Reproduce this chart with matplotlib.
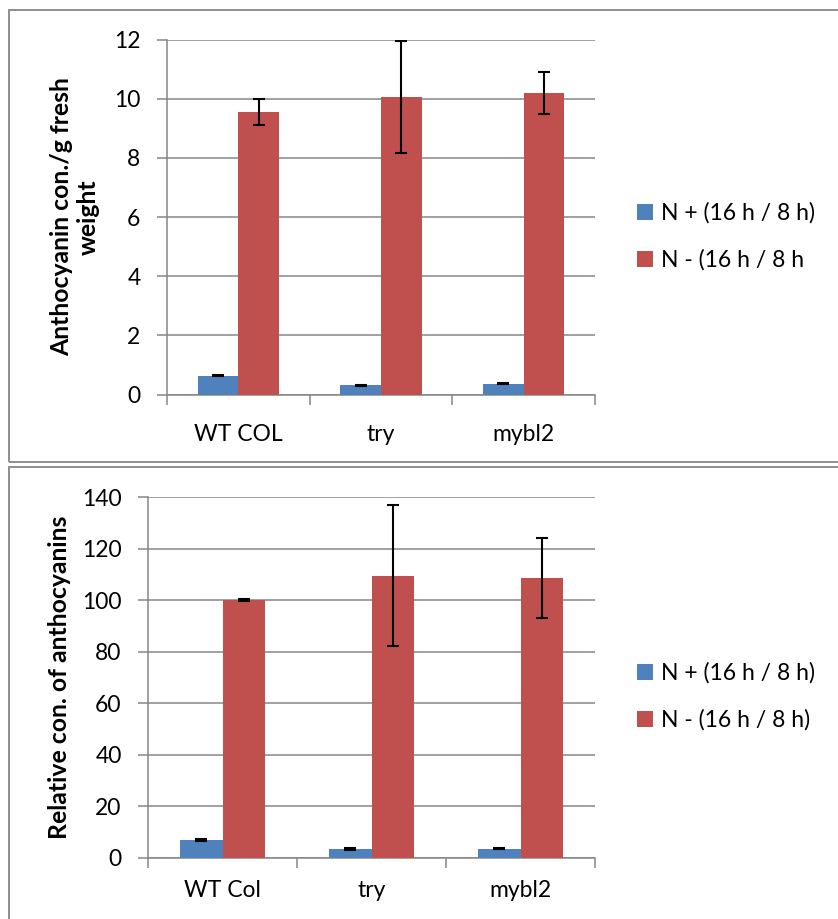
import matplotlib
matplotlib.use("Agg")
import matplotlib.pyplot as plt
from matplotlib.patches import Rectangle
import numpy as np

plt.rcParams['font.family'] = ['Lato', 'DejaVu Sans']

# ---- data -------------------------------------------------------------
groups_top = ["WT COL", "try", "mybl2"]
groups_bottom = ["WT Col", "try", "mybl2"]
series_top = ["N + (16 h / 8 h)", "N - (16 h / 8 h"]
series_bottom = ["N + (16 h / 8 h)", "N - (16 h / 8 h)"]

# anthocyanin content per g fresh weight
top_nplus = [0.63, 0.31, 0.37]
top_nplus_err = [0.02, 0.02, 0.02]
top_nminus = [9.55, 10.05, 10.19]
top_nminus_err = [0.45, 1.9, 0.7]

# relative anthocyanin content (WT N- = 100)
bot_nplus = [7.0, 3.4, 3.6]
bot_nplus_err = [0.3, 0.3, 0.3]
bot_nminus = [100.0, 109.5, 108.6]
bot_nminus_err = [0.3, 27.3, 15.5]

top_ticks = [0, 2, 4, 6, 8, 10, 12]
bot_ticks = [0, 20, 40, 60, 80, 100, 120, 140]

BLUE = "#4F81BD"
RED = "#C0504D"
GRAY = "#868686"

W, H = 838, 919
fig = plt.figure(figsize=(W / 100, H / 100), dpi=100)


def fx(px):
    return px / W


def fy(py):
    return 1 - py / H


# panel frames
for y0, y1 in [(10, 462), (467, 925)]:
    fig.add_artist(Rectangle((fx(9), fy(y1)), fx(840) - fx(9), fy(y0) - fy(y1),
                             transform=fig.transFigure, fill=False,
                             edgecolor=GRAY, linewidth=1.3, clip_on=False))


def panel(rect, cats, s_plus, e_plus, s_minus, e_minus, ticks, ylabel,
          label_x, legend_labels, legend_y, xpad):
    left, top, right, bottom = rect
    ax = fig.add_axes([fx(left), fy(bottom), fx(right) - fx(left), fy(top) - fy(bottom)])
    x = np.arange(len(cats))
    w = 1 / 3.5
    err_kw = dict(ecolor="black", elinewidth=1.5, capsize=4.5, capthick=1.5)
    ax.bar(x - w / 2, s_plus, w, yerr=e_plus, color=BLUE, label=legend_labels[0],
           error_kw=err_kw, zorder=3)
    ax.bar(x + w / 2, s_minus, w, yerr=e_minus, color=RED, label=legend_labels[1],
           error_kw=err_kw, zorder=3)
    ax.set_xlim(-0.5, len(cats) - 0.5)
    ax.set_ylim(ticks[0], ticks[-1])
    ax.set_yticks(ticks)
    ax.set_yticklabels([str(t) for t in ticks], fontsize=16.5)
    ax.yaxis.grid(True, color=GRAY, linewidth=1.1, zorder=0)
    ax.set_axisbelow(True)
    # category labels centred under groups, tick marks at group boundaries
    ax.set_xticks(x)
    ax.set_xticklabels(cats, fontsize=16.5)
    ax.tick_params(axis="x", which="major", length=0, pad=xpad)
    ax.set_xticks(np.arange(-0.5, len(cats) + 0.5, 1.0), minor=True)
    ax.tick_params(axis="x", which="minor", length=7, width=1.1, color=GRAY)
    ax.tick_params(axis="y", length=7, width=1.1, color=GRAY, pad=12)
    for s in ("top", "right"):
        ax.spines[s].set_visible(False)
    for s in ("left", "bottom"):
        ax.spines[s].set_color(GRAY)
        ax.spines[s].set_linewidth(1.1)
    ax.set_ylabel(ylabel, fontsize=17.8, fontweight="bold", linespacing=1.15)
    ax.yaxis.label.set_verticalalignment("center")
    ax.yaxis.set_label_coords((label_x - left) / (right - left), 0.5)
    ax.legend(loc="center left", bbox_to_anchor=(fx(637), fy(legend_y)),
              bbox_transform=fig.transFigure, frameon=False, fontsize=16.5,
              handlelength=0.7, handleheight=0.7, handletextpad=0.35,
              labelspacing=1.1, borderpad=0, borderaxespad=0)
    return ax


panel((167, 39.5, 595, 394.5), groups_top, top_nplus, top_nplus_err,
      top_nminus, top_nminus_err, top_ticks,
      "Anthocyanin con./g fresh\nweight", 75, series_top, 236.5, 21)
panel((148, 497, 595, 858), groups_bottom, bot_nplus, bot_nplus_err,
      bot_nminus, bot_nminus_err, bot_ticks,
      "Relative con. of anthocyanins", 60, series_bottom, 696.5, 16)

fig.savefig("out.png", dpi=100)
